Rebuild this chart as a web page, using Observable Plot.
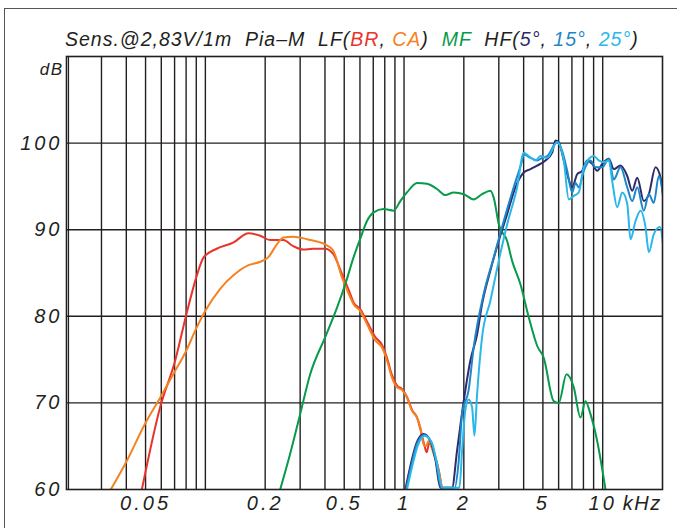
<!DOCTYPE html>
<html>
<head>
<meta charset="utf-8">
<script src="https://cdn.jsdelivr.net/npm/d3@7"></script>
<script src="https://cdn.jsdelivr.net/npm/@observablehq/plot@0.6"></script>
<style>
  html, body { margin: 0; padding: 0; background: #fff; }
  #wrap { position: relative; width: 677px; height: 528px; overflow: hidden; font-family: "Liberation Sans", Arial, sans-serif; color: #231f20; }
  #outer { position: absolute; left: 4px; top: 8px; right: -10px; bottom: -10px; border-left: 1.5px solid #555; border-top: 1.5px solid #555; }
  #title { position: absolute; left: 65px; top: 30px; font-size: 19.5px; line-height: 19px; font-style: italic; letter-spacing: 1px; white-space: pre; }
  #chart { position: absolute; left: 0; top: 0; }
  #chart svg text { letter-spacing: 1.5px; }
  #chart g[aria-label="y-axis tick label"] text, #chart .xlab text { letter-spacing: 3px; }
</style>
</head>
<body>
<div id="wrap">
  <div id="outer"></div>
  <div id="chart"></div>
  <div id="title"></div>
</div>
<script>
// ---- data (frequency in Hz, level in dB) ----
const lfBR = [
  [47.9, 60], [59.2, 69.5], [70.5, 74.9], [80, 80.1], [90, 84.5], [98, 86.8], [114, 87.8],
  [138, 88.5], [165, 89.6], [189, 89.3], [212, 88.8], [247, 88.8], [277, 88.1], [311, 87.7], [349, 87.8],
  [401, 87.8], [440, 87.2], [487, 84.9], [536, 82.6], [557, 81.6], [603, 80.8], [651, 79.4], [717, 77.6],
  [775, 76.7], [821, 75.2], [870, 73.2], [922, 72.0], [977, 71.6], [1035, 70.7], [1097, 69.2], [1163, 68.3],
  [1208, 67.0], [1260, 65.3], [1300, 64.3], [1340, 65.4], [1409, 64.3], [1494, 62.3], [1554, 60]
];
const lfCA = [
  [33.4, 60], [40.2, 63.3], [49.7, 67.6], [59.2, 70.6], [70.5, 73.7], [80, 76.0], [90, 78.6],
  [99.8, 80.6], [119, 83.2], [138, 84.7], [165, 85.9], [189, 86.3], [207, 86.8], [229, 88.3], [247, 89.1],
  [278, 89.2], [325, 88.9], [401, 88.3], [440, 87.6], [487, 84.5], [536, 82.2], [557, 81.4], [603, 80.6],
  [651, 79.1], [717, 77.2], [775, 76.4], [821, 74.9], [870, 72.9], [922, 71.8], [977, 71.5], [1035, 70.6],
  [1097, 69.1], [1163, 68.3], [1208, 67.2], [1255, 65.2], [1290, 65.0], [1330, 65.6], [1409, 64.1],
  [1494, 62.2], [1554, 60]
];
const mf = [
  [238, 60], [267, 64.1], [300, 68.7], [337, 73.3], [401, 77.6], [460, 81.0], [506, 83.7],
  [557, 86.8], [614, 89.5], [651, 91.0], [703, 92.0], [789, 92.4], [886, 92.2], [958, 93.3], [1035, 94.3],
  [1163, 95.4], [1306, 95.3], [1466, 94.7], [1614, 94.0], [1778, 94.3], [2000, 94.1], [2242, 93.5],
  [2471, 94.1], [2721, 94.5], [2828, 93.7], [3000, 90.6], [3303, 88.7], [3500, 86.4], [3854, 83.7],
  [4244, 79.9], [4677, 76.6], [5050, 75.2], [5670, 70.2], [6009, 70.0], [6571, 73.3], [7152, 71.8],
  [7730, 68.3], [8190, 70.2], [8680, 68.7], [9380, 65.6], [10330, 60]
];
const hf5 = [
  [1015, 60], [1076, 62.7], [1153, 65.3], [1255, 66.4], [1357, 65.6], [1438, 63.5], [1523, 60.2],
  [1745, 60.2], [1849, 64.5], [1997, 70.2], [2158, 74.9], [2332, 77.9], [2471, 81.4], [2721, 85.3],
  [2997, 88.7], [3303, 91.8], [3637, 94.9], [4005, 96.6], [4328, 97.0], [4677, 97.4], [5150, 98.0],
  [5567, 98.9], [5782, 100.3], [6009, 100.1], [6368, 98.0], [6750, 95.8], [7020, 94.9], [7438, 96.4],
  [7883, 96.8], [8355, 98.0], [8852, 97.6], [9382, 96.8], [9943, 97.6], [10733, 98.2], [11374, 97.0],
  [12293, 97.4], [13287, 96.2], [14081, 94.5], [14923, 96.0], [16107, 93.3], [17072, 94.1], [18450, 97.2],
  [19553, 96.0], [20480, 92.6]
];
const hf15 = [
  [1025, 60], [1085, 62.6], [1160, 65.2], [1262, 66.3], [1370, 65.5], [1450, 63.3], [1540, 60.2],
  [1800, 60.2], [1880, 63.0], [1960, 68.7], [2115, 71.5], [2242, 76.4], [2518, 82.6], [2828, 86.8],
  [3176, 91.0], [3565, 94.9], [3931, 98.0], [4005, 98.7], [4328, 98.3], [4677, 98.0], [4957, 98.3],
  [5253, 98.5], [5899, 100.1], [6252, 99.1], [6626, 96.8], [7020, 94.3], [7295, 95.4], [7578, 94.9],
  [8031, 96.8], [8682, 98.0], [9199, 97.2], [9943, 97.2], [10733, 98.2], [11374, 95.8], [12293, 97.2],
  [13287, 94.9], [14081, 93.3], [14923, 94.9], [16107, 92.2], [17072, 94.1], [18090, 93.1], [19160, 96.2],
  [20480, 92.4]
];
const hf25 = [
  [1035, 60], [1095, 62.5], [1170, 65.0], [1268, 66.2], [1380, 65.4], [1460, 63.2], [1560, 60.2],
  [1900, 60.2], [1960, 64.5], [2030, 69.0], [2115, 70.4], [2201, 69.5], [2261, 66.2], [2332, 71.0],
  [2471, 77.6], [2721, 81.8], [2997, 86.4], [3303, 90.6], [3709, 94.9], [4005, 98.9], [4244, 98.5],
  [4586, 98.0], [4860, 98.5], [5253, 98.3], [5899, 100.1], [6368, 98.0], [6750, 93.5], [7152, 93.9],
  [7578, 94.3], [8031, 97.2], [9022, 98.5], [9559, 98.0], [10128, 97.8], [10733, 98.0], [11168, 95.6],
  [11833, 92.6], [12540, 94.3], [13287, 93.0], [13807, 88.9], [14630, 91.0], [15502, 92.2], [16428, 90.3],
  [17072, 87.4], [18090, 89.5], [19398, 90.3], [20480, 86.4]
];

const gridFreqs = [30, 40, 50, 60, 70, 80, 90, 100, 200, 300, 400, 500, 600, 700, 800, 900,
                   1000, 2000, 3000, 4000, 5000, 6000, 7000, 8000, 9000, 10000];
const yGrid = [70, 80, 90, 100];
const yTicks = [60, 70, 80, 90, 100];
const xTicks = [50, 200, 500, 1000, 2000, 5000, 10000];
const xTickLabels = ["0.05", "0.2", "0.5", "1", "2", "5", "10"];

const seriesNames = ["BR", "CA", "MF", "5°", "15°", "25°"];
const seriesColors = ["#e8342a", "#f5821f", "#079a4a", "#2e2b6d", "#1d86c8", "#2ab7ea"];
const seriesData = [lfBR, lfCA, mf, hf5, hf15, hf25];

const ink = "#231f20";

const lineMarks = seriesData.map((data, i) =>
  Plot.line(data, {x: d => d[0], y: d => d[1], stroke: seriesColors[i], strokeWidth: 2,
                   curve: "monotone-x", clip: true})
);

const chart = Plot.plot({
  width: 677,
  height: 528,
  marginLeft: 66,
  marginRight: 15,
  marginTop: 56,
  marginBottom: 39,
  style: {fontFamily: "'Liberation Sans', Arial, sans-serif", fontSize: "20px", color: ink, background: "transparent"},
  x: {type: "log", domain: [20, 20000], axis: null},
  y: {domain: [60, 110], axis: null},
  marks: [
    Plot.ruleX(gridFreqs, {stroke: ink, strokeWidth: 1.4}),
    Plot.ruleY(yGrid, {stroke: ink, strokeWidth: 1.4}),
    ...lineMarks,
    Plot.frame({stroke: ink, strokeWidth: 1.6}),
    Plot.frame({anchor: "left", dx: 2, stroke: ink, strokeWidth: 1.2}),
    Plot.text(xTicks, {x: d => d, text: (d, i) => xTickLabels[i], frameAnchor: "bottom", lineAnchor: "middle",
                dy: 14, fontSize: 20, fontStyle: "italic", fill: ink, className: "xlab"}),
    Plot.axisY({ticks: yTicks, tickSize: 0, tickPadding: 4, fontSize: 20, fontStyle: "italic", fill: ink, label: null}),
    Plot.text([{f: 10000, label: "kHz"}], {x: "f", text: "label", frameAnchor: "bottom", lineAnchor: "middle",
                dy: 14, dx: 20, textAnchor: "start", fontSize: 20, fontStyle: "italic", fill: ink}),
    Plot.text(["dB"], {frameAnchor: "top-left", lineAnchor: "middle", dx: -3, dy: 13, textAnchor: "end",
                fontSize: 17, fontStyle: "italic", fill: ink})
  ]
});
document.getElementById("chart").appendChild(chart);

// title with coloured series names
const t = document.getElementById("title");
const parts = [
  ["Sens.@2,83V/1m  Pia–M  LF(", ink], [seriesNames[0], seriesColors[0]], [", ", ink],
  [seriesNames[1], seriesColors[1]], [")  ", ink], [seriesNames[2], seriesColors[2]], ["  HF(", ink],
  [seriesNames[3], seriesColors[3]], [", ", ink], [seriesNames[4], seriesColors[4]], [", ", ink],
  [seriesNames[5], seriesColors[5]], [")", ink]
];
for (const [txt, col] of parts) {
  const s = document.createElement("span");
  s.textContent = txt;
  s.style.color = col;
  t.appendChild(s);
}
</script>
</body>
</html>
